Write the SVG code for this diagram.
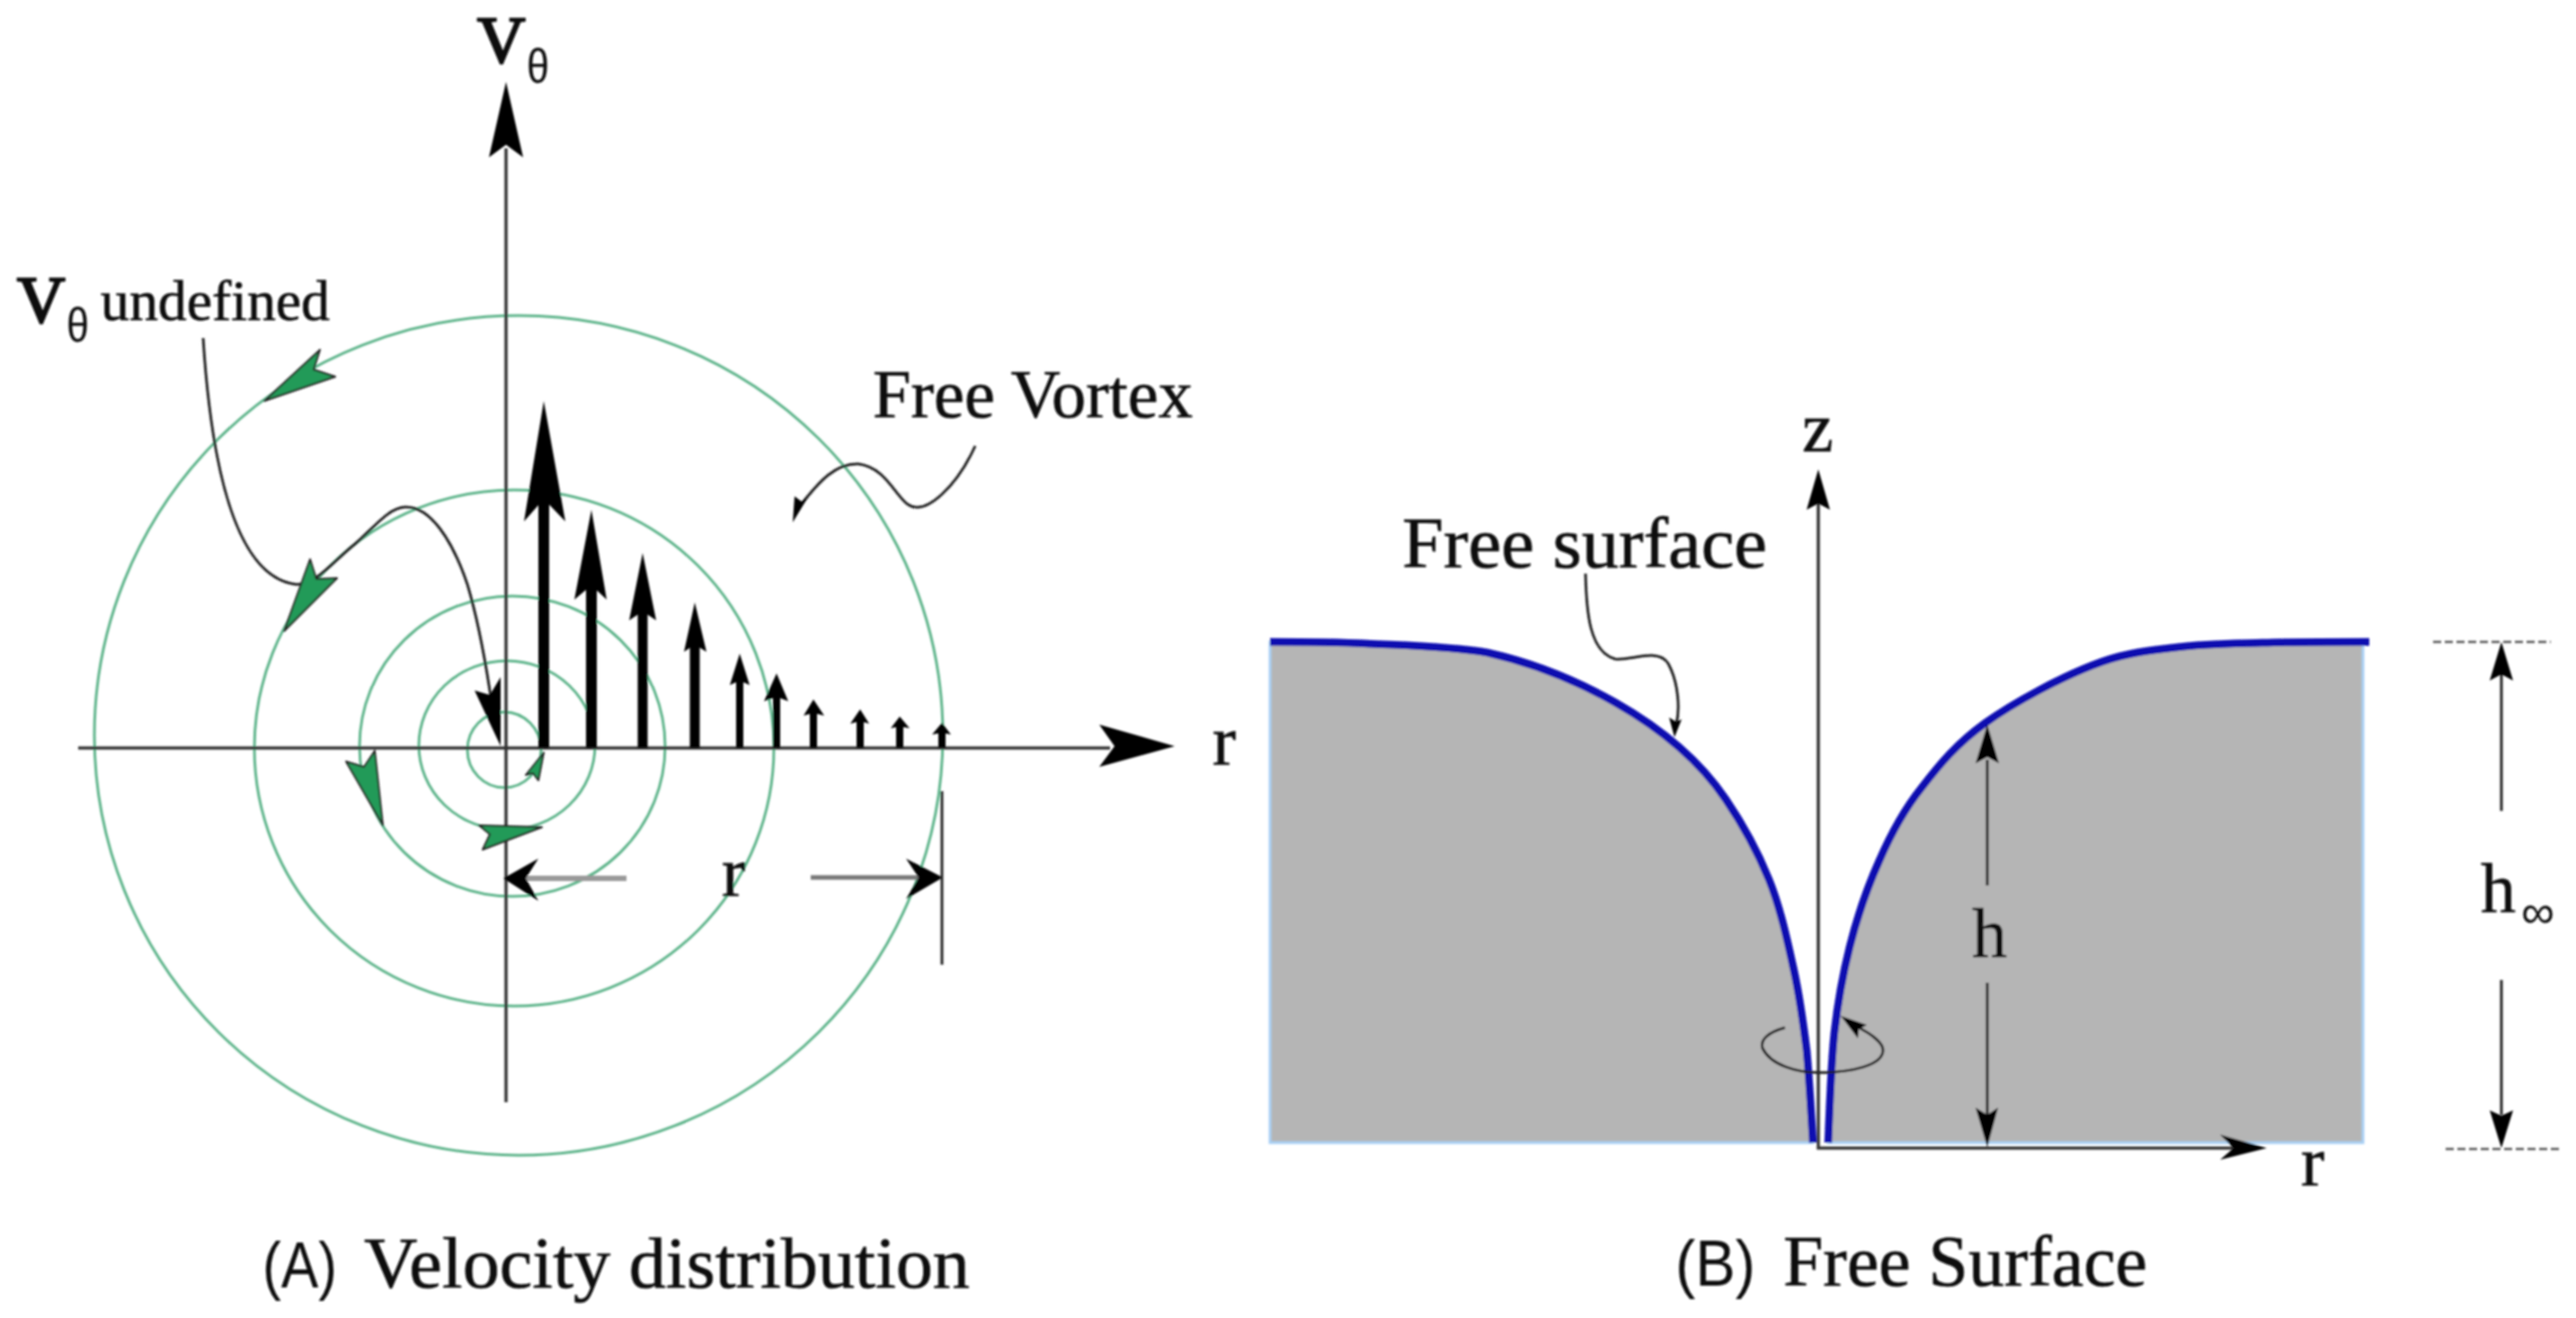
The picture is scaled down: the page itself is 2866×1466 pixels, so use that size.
<svg xmlns="http://www.w3.org/2000/svg" width="2866" height="1466" viewBox="0 0 2866 1466">
<style>
.serif{font-family:"Liberation Serif","DejaVu Serif",serif;fill:#111;stroke:#111;stroke-width:.7}
.sans{font-family:"Liberation Sans","DejaVu Sans",sans-serif;fill:#111}
.ring{fill:none;stroke:#5db48a;stroke-width:3}
.ax{fill:none;stroke:#333;stroke-width:3.5}
.thin{fill:none;stroke:#222;stroke-width:3}
.head{fill:#000;stroke:none}
.green{fill:#249a58;stroke:#222;stroke-width:2;stroke-linejoin:round}
.stem{stroke:#000;fill:none}
.blue{fill:none;stroke:#0b0bb0;stroke-width:8.5}
.dash{fill:none;stroke:#555;stroke-width:2.5;stroke-dasharray:9 4}
</style>
<defs><filter id="soft" filterUnits="userSpaceOnUse" x="0" y="0" width="2866" height="1466"><feGaussianBlur stdDeviation="0.9"/></filter></defs>
<rect width="2866" height="1466" fill="#fff"/>
<g filter="url(#soft)">
<g id="panel-a-rings">
<ellipse class="ring" cx="561" cy="834" rx="41" ry="42"/>
<ellipse class="ring" cx="564" cy="829" rx="98" ry="94"/>
<ellipse class="ring" cx="570" cy="830" rx="170" ry="167"/>
<ellipse class="ring" cx="572" cy="832" rx="289" ry="287"/>
<ellipse class="ring" cx="577" cy="818" rx="472" ry="467"/>
</g>
<g id="panel-b-water">
<path d="M1413 714C1431 714 1482 714 1522 716C1562 718 1615 719 1655 726C1740 745 1860 800 1920 889C1939 917 1955 946 1968 978C1981 1010 1989 1048 1996 1080C2003 1112 2006 1136 2010 1168C2013 1200 2016 1254 2017 1271H1413Z" fill="#b5b5b5" stroke="#a8d0f5" stroke-width="3"/>
<path d="M2636 714C2616 714 2553 714 2517 715C2481 716 2453 716 2422 720C2390 724 2363 726 2328 740C2292 754 2241 781 2209 804C2177 827 2158 850 2138 876C2118 901 2104 927 2091 957C2078 986 2066 1021 2058 1053C2050 1085 2045 1112 2041 1148C2037 1184 2035 1250 2034 1271H2629V714Z" fill="#b5b5b5" stroke="#a8d0f5" stroke-width="3"/>
<path class="blue" d="M1413 714C1431 714 1482 714 1522 716C1562 718 1615 719 1655 726C1740 745 1860 800 1920 889C1939 917 1955 946 1968 978C1981 1010 1989 1048 1996 1080C2003 1112 2006 1136 2010 1168C2013 1200 2016 1254 2017 1271"/>
<path class="blue" d="M2636 714C2616 714 2553 714 2517 715C2481 716 2453 716 2422 720C2390 724 2363 726 2328 740C2292 754 2241 781 2209 804C2177 827 2158 850 2138 876C2118 901 2104 927 2091 957C2078 986 2066 1021 2058 1053C2050 1085 2045 1112 2041 1148C2037 1184 2035 1250 2034 1271"/>
</g>
<g id="connectors">
<path class="ax" d="M563 165V1226"/>
<polygon class="head" points="563,91 582,175 563,161 544,175"/>
<path class="ax" d="M87 832H1235"/>
<polygon class="head" points="1307,830 1223,806 1240,830 1223,853"/>
<path class="stem" stroke-width="6" style="stroke:#999" d="M585 977H697"/>
<path class="stem" stroke-width="5" style="stroke:#777" d="M902 976H1025"/>
<polygon class="head" points="560,977 599,955 585,977 599,1002"/>
<polygon class="head" points="1049,976 1008,955 1022,976 1008,1000"/>
<path class="thin" d="M1048 880V1073"/>
<path class="thin" d="M226 376C232 470 250 640 329 650C350 652 370 625 395 605C415 588 432 565 450 564C478 562 503 600 520 650C532 690 540 735 546 775"/>
<polygon class="head" points="557,830 528,768 545,773 557,753"/>
<path class="thin" d="M1085 496C1065 540 1030 575 1010 561C995 550 985 520 955 516C925 515 905 545 892 560"/>
<polygon class="head" points="882,581 884,552 892,558 899,553"/>
<g id="velocity-arrows">
<path class="stem" stroke-width="12" d="M605 550V832M658 640V832"/>
<path class="stem" stroke-width="11" d="M715 670V832M773 710V832"/>
<path class="stem" stroke-width="8" d="M823 750V832M864 770V832M905 788V832M957 798V832M1001 804V832M1048 810V832"/>
<polygon class="head" points="605,446 629,580 605,555 583,580"/>
<polygon class="head" points="658,567 675,667 658,651 639,667"/>
<polygon class="head" points="715,615 730,690 715,680 700,690"/>
<polygon class="head" points="773,670 786,725 773,717 761,725"/>
<polygon class="head" points="823,727 834,762 823,757 812,762"/>
<polygon class="head" points="864,749 877,780 864,775 850,780"/>
<polygon class="head" points="905,778 917,796 905,793 894,796"/>
<polygon class="head" points="957,789 967,805 957,802 946,805"/>
<polygon class="head" points="1001,797 1012,810 1001,808 991,810"/>
<polygon class="head" points="1048,804 1058,817 1048,815 1037,817"/>
</g>
<g id="green-arrows">
<polygon class="green" points="294,446 356,389 349,411 373,419"/>
<polygon class="green" points="316,702 345,622 352,644 375,643"/>
<polygon class="green" points="426,918 417,835 405,853 385,847"/>
<polygon class="green" points="603,920 533,918 545,928 537,945"/>
<polygon class="green" points="605,837 585,862 593,860 599,868"/>
</g>
<path class="ax" d="M2023 555V1277H2490"/>
<polygon class="head" points="2023,522 2036,567 2023,560 2010,567"/>
<polygon class="head" points="2522,1277 2470,1262 2485,1277 2470,1290"/>
<path class="thin" d="M2211 845V985M2211 1093V1240"/>
<polygon class="head" points="2211,806 2224,849 2211,842 2198,849"/>
<polygon class="head" points="2211,1276 2198,1232 2211,1240 2223,1232"/>
<path class="thin" d="M2783 745V902M2783 1090V1240"/>
<polygon class="head" points="2783,714 2796,757 2783,750 2770,757"/>
<polygon class="head" points="2783,1277 2770,1235 2783,1241 2796,1235"/>
<path class="dash" d="M2707 714H2838M2721 1278H2847"/>
<path class="thin" d="M1764 638C1765 680 1768 725 1797 733C1815 735 1845 720 1856 738C1868 760 1869 790 1865 805"/>
<polygon class="head" points="1863,820 1857,798 1865,803 1871,800"/>
<path class="thin" d="M1986 1143C1968 1148 1958 1156 1961 1166C1970 1185 2000 1193 2023 1193C2060 1193 2095 1185 2095 1168C2095 1160 2082 1150 2066 1142"/>
<polygon class="head" points="2048,1130 2077,1140 2068,1145 2067,1155"/>
</g>
<g id="label-v-theta"><text class="serif" x="531" y="70" font-size="74" style="stroke-width:2.6">V</text><text class="sans" x="586" y="92" font-size="54" textLength="25" lengthAdjust="spacingAndGlyphs">θ</text></g>
<g id="label-undefined"><text class="serif" x="19" y="359" font-size="74" style="stroke-width:2.6">V</text><text class="sans" x="74" y="380" font-size="54" textLength="25" lengthAdjust="spacingAndGlyphs">θ</text><text class="serif" x="112" y="356" font-size="64" textLength="255" lengthAdjust="spacingAndGlyphs">undefined</text></g>
<g id="label-free-vortex"><text class="serif" x="971" y="464" font-size="76" textLength="356" lengthAdjust="spacingAndGlyphs">Free Vortex</text></g>
<g id="label-r-axis"><text class="serif" x="1349" y="850" font-size="78">r</text></g>
<g id="label-r-dim"><text class="serif" x="803" y="996" font-size="78">r</text></g>
<g id="caption-a"><text class="sans" x="292" y="1432" font-size="72" textLength="83" lengthAdjust="spacingAndGlyphs">(A)</text><text class="serif" x="405" y="1432" font-size="80" textLength="674" lengthAdjust="spacingAndGlyphs">Velocity distribution</text></g>
<g id="label-z"><text class="serif" x="2005" y="502" font-size="78">z</text></g>
<g id="label-free-surface"><text class="serif" x="1560" y="631" font-size="80" textLength="406" lengthAdjust="spacingAndGlyphs">Free surface</text></g>
<g id="label-h"><text class="serif" x="2194" y="1065" font-size="78">h</text></g>
<g id="label-h-inf"><text class="serif" x="2760" y="1015" font-size="78">h</text><text class="sans" x="2805" y="1032" font-size="52">∞</text></g>
<g id="label-r-b"><text class="serif" x="2560" y="1318" font-size="78">r</text></g>
<g id="caption-b"><text class="sans" x="1864" y="1430" font-size="72" textLength="89" lengthAdjust="spacingAndGlyphs">(B)</text><text class="serif" x="1984" y="1430" font-size="80" textLength="405" lengthAdjust="spacingAndGlyphs">Free Surface</text></g>
</g>
</svg>
